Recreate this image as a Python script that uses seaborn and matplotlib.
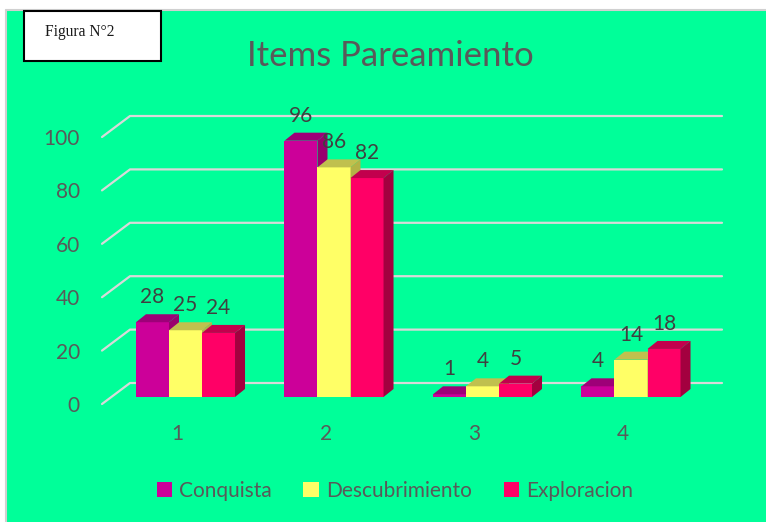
import matplotlib
matplotlib.use("Agg")
import matplotlib.pyplot as plt
import matplotlib.transforms as mtransforms
from matplotlib.patches import Rectangle, Polygon
from matplotlib.lines import Line2D
import seaborn as sns
import pandas as pd

# ---- data ----
categories = ["1", "2", "3", "4"]
series = ["Conquista", "Descubrimiento", "Exploracion"]
conquista = [28, 96, 1, 4]
descubrimiento = [25, 86, 4, 14]
exploracion = [24, 82, 5, 18]
yticks = [0, 20, 40, 60, 80, 100]
title = "Items Pareamiento"
figure_label = "Figura N°2"

front_colors = ["#CC0099", "#FFFF66", "#FF0066"]
top_colors = ["#9E0078", "#C0C04E", "#C2004D"]
side_colors = ["#99006E", "#B3B346", "#A3003F"]

rows = []
for s, vals in zip(series, [conquista, descubrimiento, exploracion]):
    for c, v in zip(categories, vals):
        rows.append({"cat": c, "serie": s, "valor": v})
df = pd.DataFrame(rows)

sns.set_theme(style="white")
FONT = ["Lato", "DejaVu Sans"]
plt.rcParams["font.family"] = FONT
TXT = "#595959"

W, H = 766, 522
fig = plt.figure(figsize=(W / 100, H / 100), dpi=100)
fig.patch.set_facecolor("white")

# green chart area with light border
fig.patches.append(Rectangle((7 / W, 0), (W - 7) / W, (H - 10) / H,
                             transform=fig.transFigure, facecolor="#00FF99",
                             edgecolor="none", zorder=-10))
fig.add_artist(Line2D([6 / W, 6 / W], [0, (H - 10) / H], transform=fig.transFigure,
                      color="#D0D0D0", lw=1.5))
fig.add_artist(Line2D([6 / W, 1], [(H - 10) / H, (H - 10) / H], transform=fig.transFigure,
                      color="#D0D0D0", lw=1.5))

# axes placement (pixels)
ax_l, ax_r, ax_b, ax_t = 102, 722, 410, 100
ax = fig.add_axes([ax_l / W, 1 - ax_b / H, (ax_r - ax_l) / W, (ax_b - ax_t) / H])
ax.set_facecolor("none")

sns.barplot(data=df, x="cat", y="valor", hue="serie", order=categories,
            hue_order=series, palette=front_colors, width=0.667, gap=0,
            saturation=1, ax=ax, legend=True, edgecolor="none", linewidth=0)

px_per_unit = 2.67
base_px = 397
ax.set_ylim(-(ax_b - base_px) / px_per_unit, (base_px - ax_t) / px_per_unit)
grp = 148.5
x0_px = 185.5
ax.set_xlim((ax_l - x0_px) / grp, (ax_r - x0_px) / grp)

for s in ax.spines.values():
    s.set_visible(False)

# 3D depth offsets in data units
ddx = 10 / grp
ddy = 8 / px_per_unit

# gridlines: front edge, oblique to back wall, back wall horizontal
front_off = -7 / px_per_unit
back_off = 14 / px_per_unit
wall_x = 28 / (ax_r - ax_l)
ytr = ax.get_yaxis_transform()
for v in yticks:
    ax.plot([0, wall_x, 1], [v + front_off, v + back_off, v + back_off],
            transform=ytr, color="#D9D9D9", lw=1.6, zorder=0.5, clip_on=False)

# 3D faces for bars
for si, cont in enumerate(ax.containers):
    for p in cont.patches:
        x, y, w, h = p.get_x(), p.get_y(), p.get_width(), p.get_height()
        p.set_zorder(2 + si)
        top = Polygon([(x, y + h), (x + ddx, y + h + ddy), (x + w + ddx, y + h + ddy), (x + w, y + h)],
                      closed=True, facecolor=top_colors[si], edgecolor="none", zorder=2 + si + 0.1)
        side = Polygon([(x + w, y), (x + w + ddx, y + ddy), (x + w + ddx, y + h + ddy), (x + w, y + h)],
                       closed=True, facecolor=side_colors[si], edgecolor="none", zorder=2 + si + 0.1)
        ax.add_patch(top)
        ax.add_patch(side)
        ax.annotate(f"{int(round(h))}", (x + w / 2, y + h), xytext=(0, 18), textcoords="offset points",
                    ha="center", va="center", fontsize=15, color="#404040", zorder=10,
                    family=FONT)

# ticks
ax.set_yticks([v + front_off for v in yticks])
ax.set_yticklabels([str(v) for v in yticks])
ax.tick_params(axis="y", length=0, pad=16, labelsize=15, labelcolor=TXT)
ax.tick_params(axis="x", length=0, pad=10, labelsize=15, labelcolor=TXT)
ax.set_xlabel("")
ax.set_ylabel("")
shift = mtransforms.ScaledTranslation(-8 / 100, 0, fig.dpi_scale_trans)
for lab in ax.get_xticklabels():
    lab.set_transform(lab.get_transform() + shift)

# legend
handles, labels = ax.get_legend_handles_labels()
if ax.legend_ is not None:
    ax.legend_.remove()
fig.legend(handles, labels, loc="center", bbox_to_anchor=(395 / W, 1 - 491 / H),
           ncol=3, frameon=False, fontsize=15, labelcolor=TXT,
           handlelength=0.75, handleheight=0.75, handletextpad=0.35,
           columnspacing=1.5)

# title
fig.text(390.5 / W, 1 - 66 / H, title, ha="center", va="baseline", fontsize=25, color=TXT)

# figure label box
fig.patches.append(Rectangle((24 / W, 1 - 61 / H), 137 / W, 50 / H, transform=fig.transFigure,
                             facecolor="white", edgecolor="black", lw=1.5, zorder=5))
fig.text(45 / W, 1 - 36 / H, figure_label, ha="left", va="baseline", fontsize=11.2,
         color="#1a1a1a", family=["Liberation Serif", "DejaVu Serif"], zorder=6)

fig.savefig("out.png", dpi=100, facecolor=fig.get_facecolor())
